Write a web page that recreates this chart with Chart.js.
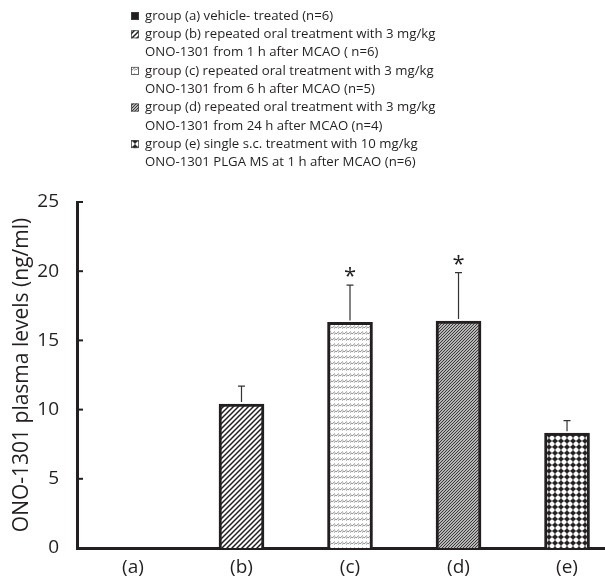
<!DOCTYPE html>
<html>
<head>
<meta charset="utf-8">
<script src="https://cdn.jsdelivr.net/npm/chart.js@4"></script>
<style>
  html, body { margin: 0; padding: 0; background: #fff; overflow: hidden; }
  #wrap { position: relative; width: 605px; height: 576px; }
</style>
</head>
<body>
<div id="wrap"><canvas id="plasma-chart" width="605" height="576"></canvas></div>
<script>
/* global Chart */
const groups = ['(a)', '(b)', '(c)', '(d)', '(e)'];
const means = [0, 10.4, 16.3, 16.4, 8.3];
const upperErr = [0, 1.3, 2.7, 3.5, 0.9];
const significant = [false, false, true, true, false];
const yTicks = [0, 5, 10, 15, 20, 25];
const legendLines = [
    ['a', 'group (a) vehicle- treated (n=6)'],
    ['b', 'group (b) repeated oral treatment with 3 mg/kg'],
    [null, 'ONO-1301 from 1 h after MCAO ( n=6)'],
    ['c', 'group (c) repeated oral treatment with 3 mg/kg'],
    [null, 'ONO-1301 from 6 h after MCAO (n=5)'],
    ['d', 'group (d) repeated oral treatment with 3 mg/kg'],
    [null, 'ONO-1301 from 24 h after MCAO (n=4)'],
    ['e', 'group (e) single s.c. treatment with 10 mg/kg'],
    [null, 'ONO-1301 PLGA MS at 1 h after MCAO (n=6)']
];

const INK = '#231f20';
const FONT = '"Open Sans", "Liberation Sans", sans-serif';

function makeTile(w, h, draw) {
    const c = document.createElement('canvas');
    c.width = w;
    c.height = h;
    const g = c.getContext('2d');
    g.fillStyle = '#fff';
    g.fillRect(0, 0, w, h);
    draw(g);
    return document.createElement('canvas').getContext('2d').createPattern(c, 'repeat');
}

const patterns = {
    a: INK,
    b: makeTile(5, 5, g => {
        g.strokeStyle = INK;
        g.lineWidth = 1.5;
        g.beginPath();
        g.moveTo(-1, 6); g.lineTo(6, -1);
        g.moveTo(-1, 1); g.lineTo(1, -1);
        g.moveTo(4, 6); g.lineTo(6, 4);
        g.stroke();
    }),
    c: makeTile(4, 6, g => {
        g.strokeStyle = '#8c8c8c';
        g.lineWidth = 1;
        g.beginPath();
        g.moveTo(0, 4); g.lineTo(3, 1.5);
        g.moveTo(2, 4.5); g.lineTo(4.5, 2.5);
        g.stroke();
    }),
    d: makeTile(3, 3, g => {
        g.fillStyle = '#b5b5b5';
        g.fillRect(0, 0, 3, 3);
        g.strokeStyle = '#3a3a3a';
        g.lineWidth = 1;
        g.beginPath();
        g.moveTo(-1, 4); g.lineTo(4, -1);
        g.stroke();
    }),
    e: makeTile(6, 6, g => {
        g.fillStyle = INK;
        g.fillRect(0, 2.5, 6, 1);
        g.fillRect(2.5, 0, 1, 6);
        g.beginPath();
        g.arc(3, 3, 2.1, 0, Math.PI * 2);
        g.fill();
    })
};
const barFills = ['a', 'b', 'c', 'd', 'e'].map(k => patterns[k]);

const decorations = {
    id: 'decorations',
    afterDraw(chart) {
        const { ctx, scales: { x, y } } = chart;
        ctx.save();
        // inward tick marks on y axis
        ctx.strokeStyle = INK;
        ctx.lineWidth = 2;
        yTicks.forEach(v => {
            if (v === 0) return;
            const py = y.getPixelForValue(v);
            ctx.beginPath();
            ctx.moveTo(x.left, py);
            ctx.lineTo(x.left + 6, py);
            ctx.stroke();
        });

        // error bars + asterisks
        ctx.strokeStyle = '#333';
        ctx.lineWidth = 1.2;
        ctx.fillStyle = INK;
        ctx.font = '22px ' + FONT;
        ctx.textAlign = 'center';
        ctx.textBaseline = 'middle';
        means.forEach((m, i) => {
            if (!upperErr[i]) return;
            const px = x.getPixelForValue(i);
            const pb = y.getPixelForValue(m);
            const pt = y.getPixelForValue(m + upperErr[i]);
            ctx.beginPath();
            ctx.moveTo(px, pb - 2);
            ctx.lineTo(px, pt);
            ctx.moveTo(px - 3.5, pt);
            ctx.lineTo(px + 3.5, pt);
            ctx.stroke();
            if (significant[i]) {
                ctx.fillText('*', px, pt - 8);
            }
        });

        // legend
        ctx.font = '13.2px ' + FONT;
        ctx.textAlign = 'left';
        ctx.textBaseline = 'middle';
        legendLines.forEach(([key, text], i) => {
            const cy = 16 + i * 18.3;
            if (key) {
                ctx.fillStyle = patterns[key];
                ctx.fillRect(131, cy - 4, 8, 8);
                ctx.strokeStyle = '#444';
                ctx.lineWidth = 0.8;
                ctx.strokeRect(131.4, cy - 3.6, 7.2, 7.2);
            }
            ctx.fillStyle = INK;
            ctx.fillText(text, 145, cy);
        });
        ctx.restore();
    }
};

new Chart(document.getElementById('plasma-chart').getContext('2d'), {
    type: 'bar',
    data: {
        datasets: [{
            data: means.map((m, i) => ({ x: i, y: m })),
            backgroundColor: barFills,
            borderColor: INK,
            borderWidth: 3,
            barThickness: 45
        }]
    },
    options: {
        responsive: false,
        animation: false,
        layout: { padding: { top: 202, right: 0, bottom: 0, left: 0 } },
        plugins: {
            legend: { display: false },
            tooltip: { enabled: false }
        },
        scales: {
            x: {
                type: 'linear',
                offset: false,
                min: -0.516,
                max: 4.35,
                grid: { display: false },
                border: { display: true, color: INK, width: 3 },
                afterBuildTicks: s => { s.ticks = groups.map((g, i) => ({ value: i })); },
                afterFit: s => { s.height = 28; },
                ticks: {
                    color: INK,
                    font: { family: FONT, size: 19 },
                    padding: 0,
                    autoSkip: false,
                    maxRotation: 0,
                    callback: v => groups[v]
                }
            },
            y: {
                min: 0,
                max: 25,
                grid: { display: false },
                border: { display: true, color: INK, width: 3 },
                afterBuildTicks: s => { s.ticks = yTicks.map(v => ({ value: v })); },
                afterFit: s => { s.width = 77; },
                ticks: {
                    color: INK,
                    font: { family: FONT, size: 19 },
                    padding: 10
                },
                title: {
                    display: true,
                    text: 'ONO-1301 plasma levels (ng/ml)',
                    color: INK,
                    font: { family: FONT, size: 21 },
                    padding: { top: 9, bottom: 0 }
                }
            }
        }
    },
    plugins: [decorations]
});
</script>
</body>
</html>
